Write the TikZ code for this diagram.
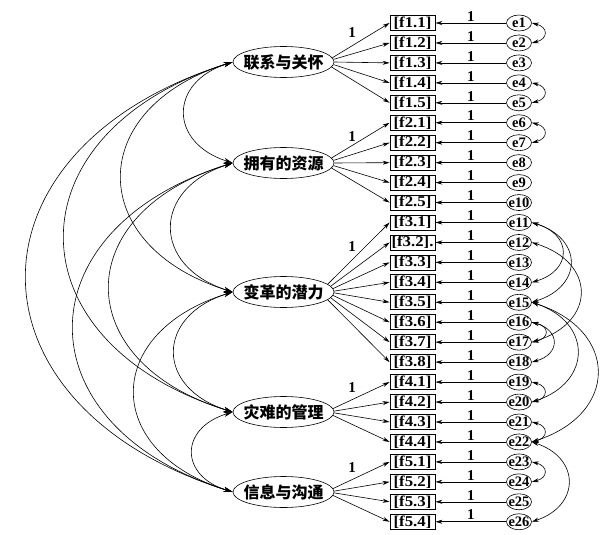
\documentclass[tikz,border=0pt]{standalone}
\usepackage{fontspec}
\setmainfont{Liberation Serif}
\newfontfamily\cjkfont{Noto Sans CJK SC}
\newfontfamily\boxfont[FakeStretch=1.12]{Liberation Serif}
\usetikzlibrary{arrows.meta,shapes.geometric,calc}
\newcommand\zt[1]{\makebox[0pt]{#1}}
% right-side covariance: from node #1 to node #2, bulge to x = #3
\newcommand\rcov[3]{\draw[dbl] let \p1=(#1.east), \p2=(#2.east), \n1={(#3-531.5)/0.75} in
  (#1.east) .. controls ({\x1+\n1*1pt},{0.8*\y1+0.2*\y2}) and ({\x1+\n1*1pt},{0.2*\y1+0.8*\y2}) .. (#2.east);}
% left-side covariance between factors
\newcommand\lcov[3]{\draw[ldbl] let \p1=(#1.west), \p2=(#2.west), \n1={(233-#3)/0.75} in
  (#1.west) .. controls ({\x1-\n1*1pt},{0.8*\y1+0.2*\y2}) and ({\x1-\n1*1pt},{0.2*\y1+0.8*\y2}) .. (#2.west);}
\begin{document}
\begin{tikzpicture}[x=1pt,y=-1pt,line width=0.6pt,
  factor/.style={draw,ellipse,minimum width=101pt,minimum height=31pt,inner sep=0pt,font=\cjkfont\bfseries\fontsize{16}{16}\selectfont},
  ind/.style={draw,rectangle,minimum width=45pt,minimum height=15pt,inner sep=0pt,line width=0.8pt,font=\boxfont\bfseries\fontsize{15}{15}\selectfont},
  err/.style={draw,ellipse,minimum width=25pt,minimum height=16pt,inner sep=0pt,font=\bfseries\fontsize{14.5}{14.5}\selectfont},
  arr/.style={-{Stealth[length=7pt,width=4pt]}},
  dbl/.style={{Stealth[length=7pt,width=4pt]}-{Stealth[length=7pt,width=4pt]}},
  ldbl/.style={{Stealth[length=9pt,width=5pt]}-{Stealth[length=9pt,width=5pt]}},
  lab/.style={inner sep=0pt,font=\bfseries\fontsize{15}{15}\selectfont}]
\useasboundingbox (0,0) rectangle (616,535);

% factors
\node[factor] (F1) at (283.5,62) {\zt{联系与关怀}};
\node[factor] (F2) at (283.5,163) {\zt{拥有的资源}};
\node[factor] (F3) at (283.5,292) {\zt{变革的潜力}};
\node[factor] (F4) at (283.5,412) {\zt{灾难的管理}};
\node[factor] (F5) at (283.5,492) {\zt{信息与沟通}};

% indicators and errors
\foreach \i/\t in {1/{[f1.1]},2/{[f1.2]},3/{[f1.3]},4/{[f1.4]},5/{[f1.5]},
  6/{[f2.1]},7/{[f2.2]},8/{[f2.3]},9/{[f2.4]},10/{[f2.5]},
  11/{[f3.1]},12/{[f3.2].},13/{[f3.3]},14/{[f3.4]},15/{[f3.5]},16/{[f3.6]},17/{[f3.7]},18/{[f3.8]},
  19/{[f4.1]},20/{[f4.2]},21/{[f4.3]},22/{[f4.4]},
  23/{[f5.1]},24/{[f5.2]},25/{[f5.3]},26/{[f5.4]}}{
  \pgfmathsetmacro\yy{23+19.95*(\i-1)}
  \node[ind] (b\i) at (412.5,\yy) {\t};
  \node[err] (e\i) at (519,\yy) {\zt{e\i}};
  \draw[arr] (e\i.west) -- node[lab,above=1.5pt]{1} (b\i.east);
}

% loadings
\foreach \f/\a/\b/\fy in {1/1/5/62,2/6/10/163,3/11/18/292,4/19/22/412,5/23/26/492}{
  \foreach \i in {\a,...,\b}{
    \pgfmathtruncatemacro\ang{round(-0.14*(23+19.95*(\i-1)-\fy))}
    \draw[arr] (F\f.\ang) -- (b\i.west);
  }
}
\node[lab] (l1) at (352,33) {1};
\node[lab] (l2) at (352,137) {1};
\node[lab] (l3) at (352,247) {1};
\node[lab] (l4) at (352,388) {1};
\node[lab] (l5) at (352,468) {1};

% factor covariances
\lcov{F1}{F2}{185}
\lcov{F2}{F3}{172}
\lcov{F3}{F4}{175}
\lcov{F4}{F5}{193}
\lcov{F1}{F3}{122}
\lcov{F2}{F4}{110}
\lcov{F3}{F5}{135}
\lcov{F1}{F4}{65}
\lcov{F2}{F5}{74}
\lcov{F1}{F5}{27}

% error covariances
\rcov{e1}{e2}{544}
\rcov{e4}{e5}{544}
\rcov{e6}{e7}{544}
\rcov{e11}{e14}{562}
\rcov{e11}{e15}{570}
\rcov{e12}{e17}{580}
\rcov{e15}{e20}{577}
\rcov{e15}{e22}{597}
\rcov{e16}{e17}{545}
\rcov{e16}{e18}{553}
\rcov{e19}{e20}{544}
\rcov{e21}{e22}{544}
\rcov{e23}{e24}{544}
\rcov{e22}{e26}{568}
\end{tikzpicture}
\end{document}
